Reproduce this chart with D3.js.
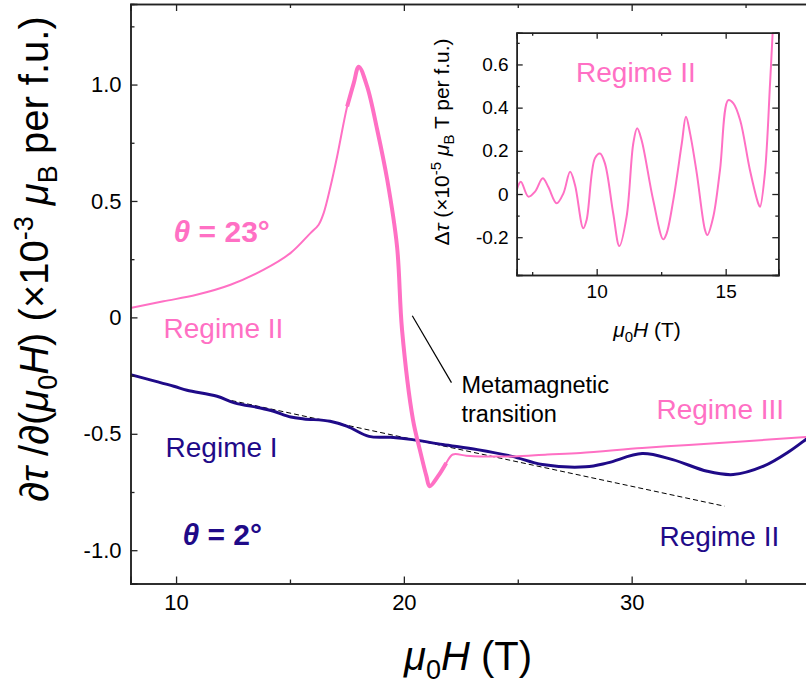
<!DOCTYPE html>
<html>
<head>
<meta charset="utf-8">
<script src="https://cdn.jsdelivr.net/npm/d3@7"></script>
<style>
  body { margin: 0; background: #fff; }
  svg { display: block; font-family: "Liberation Sans", Arial, sans-serif; }
</style>
</head>
<body>
<div id="chart"></div>
<script>
// theta = 23 deg, main panel (pink)
const h23 = [8.0, 9.45, 10.9, 12.39, 13.85, 15.02, 15.9, 16.26, 16.48, 16.78, 17.07, 17.51, 17.8, 18.02, 18.39, 18.83, 19.27, 19.7, 19.92, 20.4, 20.7, 20.99, 21.13, 21.5, 21.86, 22.15, 22.74, 23.35, 24.8, 26.3, 27.75, 30.46, 32.5, 35.0, 37.7, 38.0];
const v23 = [0.04, 0.069, 0.097, 0.14, 0.205, 0.276, 0.362, 0.398, 0.448, 0.562, 0.691, 0.906, 1.006, 1.077, 0.991, 0.806, 0.591, 0.305, -0.053, -0.439, -0.568, -0.682, -0.725, -0.682, -0.625, -0.589, -0.594, -0.597, -0.597, -0.589, -0.582, -0.561, -0.548, -0.532, -0.513, -0.51];

// theta = 2 deg, main panel (dark blue)
const h2 = [8.0, 9.9, 10.48, 11.8, 12.56, 13.7, 14.28, 15.04, 15.62, 16.76, 17.52, 18.47, 19.42, 20.38, 21.7, 23.23, 24.75, 26.08, 27.98, 28.94, 30.46, 31.8, 33.32, 34.46, 35.79, 36.93, 37.8, 38.0];
const v2 = [-0.246, -0.296, -0.313, -0.339, -0.367, -0.389, -0.403, -0.428, -0.436, -0.446, -0.468, -0.511, -0.515, -0.525, -0.546, -0.568, -0.597, -0.632, -0.642, -0.625, -0.585, -0.611, -0.661, -0.675, -0.639, -0.575, -0.513, -0.5];

// dashed background line
const dashH = [12.09, 34.08];
const dashV = [-0.35, -0.811];

// inset: oscillatory part, theta = 23 deg
const insetH = [6.9, 7.06, 7.35, 7.61, 7.91, 8.12, 8.45, 8.71, 8.97, 9.16, 9.48, 9.61, 9.93, 10.13, 10.32, 10.64, 10.88, 11.16, 11.42, 11.57, 11.74, 12.19, 12.58, 12.71, 12.97, 13.3, 13.46, 13.62, 13.88, 14.2, 14.29, 14.52, 14.78, 15.1, 15.3, 15.56, 15.94, 16.26, 16.33, 16.52, 16.72, 16.82];
const insetV = [0.018, 0.057, -0.012, 0.011, 0.073, 0.034, -0.043, 0.003, 0.103, 0.042, -0.159, -0.12, 0.165, 0.188, 0.142, -0.089, -0.241, -0.105, 0.235, 0.304, 0.25, -0.028, -0.21, -0.183, -0.028, 0.235, 0.358, 0.281, 0.096, -0.167, -0.19, -0.105, 0.111, 0.435, 0.42, 0.343, 0.111, -0.043, -0.059, 0.096, 0.512, 0.744];

// ticks
const xMajor = [10, 20, 30];
const xMinor = [15, 25, 35];
const yMajor = [-1.0, -0.5, 0, 0.5, 1.0];
const yMajorLabels = ["-1.0", "-0.5", "0", "0.5", "1.0"];
const yMinor = [-0.75, -0.25, 0.25, 0.75, 1.25];
const ixMajor = [10, 15];
const ixMinor = [7.5, 12.5];
const iyMajor = [-0.2, 0, 0.2, 0.4, 0.6];
const iyMajorLabels = ["-0.2", "0", "0.2", "0.4", "0.6"];
const iyMinor = [-0.3, -0.1, 0.1, 0.3, 0.5, 0.7];

const pink = "#ff70c4";
const navy = "#1f0a88";

const width = 806, height = 685;
const svg = d3.select("#chart").append("svg")
  .attr("width", width).attr("height", height);

const x = d3.scaleLinear().domain([8, 38]).range([130.5, 130.5 + 30 * 22.78]);
const y = d3.scaleLinear().domain([-1.143, 1.346]).range([583.5, 4]);

svg.append("clipPath").attr("id", "clipMain")
  .append("rect").attr("x", x(8)).attr("y", y(1.346)).attr("width", x(38) - x(8)).attr("height", y(-1.143) - y(1.346));

const plot = svg.append("g").attr("clip-path", "url(#clipMain)");

const line = d3.line().x(d => x(d[0])).y(d => y(d[1])).curve(d3.curveCatmullRom);

// dashed guide
plot.append("path")
  .datum(d3.zip(dashH, dashV))
  .attr("d", d3.line().x(d => x(d[0])).y(d => y(d[1])))
  .attr("fill", "none").attr("stroke", "#000").attr("stroke-width", 1)
  .attr("stroke-dasharray", "5,3");

// theta = 2
plot.append("path")
  .datum(d3.zip(h2, v2))
  .attr("d", line)
  .attr("fill", "none").attr("stroke", navy).attr("stroke-width", 3);

// theta = 23
const pts23 = d3.zip(h23, v23);
plot.append("path")
  .datum(pts23)
  .attr("d", line)
  .attr("fill", "none").attr("stroke", pink).attr("stroke-width", 2);
// noisy region drawn thicker
plot.append("path")
  .datum(pts23.filter(d => d[0] >= 17.3 && d[0] <= 22.0))
  .attr("d", line)
  .attr("fill", "none").attr("stroke", pink).attr("stroke-width", 4);

// axes (ticks inside)
function styleAxis(g) {
  g.select(".domain").attr("stroke", "#222").attr("stroke-width", 1.5);
  g.selectAll(".tick line").attr("stroke", "#222").attr("stroke-width", 1.3);
  g.selectAll("text").attr("fill", "#000");
}
const yTop = y(1.346), yBottom = y(-1.143), xLeft = x(8);

svg.append("g").attr("transform", `translate(0,${yBottom})`)
  .call(d3.axisBottom(x).tickValues(xMajor).tickSize(-7).tickPadding(11).tickFormat(d3.format("d")))
  .call(styleAxis).selectAll("text").attr("font-size", 22).attr("font-family", "Liberation Sans, Arial");
svg.append("g").attr("transform", `translate(0,${yBottom})`)
  .call(d3.axisBottom(x).tickValues(xMinor).tickSize(-4).tickFormat(""))
  .call(styleAxis);
svg.append("g").attr("transform", `translate(0,${yTop})`)
  .call(d3.axisTop(x).tickValues(xMajor).tickSize(-7).tickFormat(""))
  .call(styleAxis);
svg.append("g").attr("transform", `translate(0,${yTop})`)
  .call(d3.axisTop(x).tickValues(xMinor).tickSize(-4).tickFormat(""))
  .call(styleAxis);
svg.append("g").attr("transform", `translate(${xLeft},0)`)
  .call(d3.axisLeft(y).tickValues(yMajor).tickSize(-7).tickPadding(9).tickFormat((d, i) => yMajorLabels[i]))
  .call(styleAxis).selectAll("text").attr("font-size", 22).attr("font-family", "Liberation Sans, Arial");
svg.append("g").attr("transform", `translate(${xLeft},0)`)
  .call(d3.axisLeft(y).tickValues(yMinor).tickSize(-4).tickFormat(""))
  .call(styleAxis);

// axis titles
const xt = svg.append("text").attr("x", 468).attr("y", 670)
  .attr("text-anchor", "middle").attr("font-size", 40).attr("fill", "#000");
xt.append("tspan").attr("font-style", "italic").text("μ");
xt.append("tspan").attr("dy", 9).attr("font-size", 27).text("0");
xt.append("tspan").attr("dy", -9).attr("font-style", "italic").text("H");
xt.append("tspan").text(" (T)");

const yt = svg.append("text").attr("transform", "translate(48,259) rotate(-90)")
  .attr("text-anchor", "middle").attr("font-size", 40).attr("fill", "#000");
yt.append("tspan").text("∂");
yt.append("tspan").attr("font-style", "italic").text("τ");
yt.append("tspan").text(" /∂(");
yt.append("tspan").attr("font-style", "italic").text("μ");
yt.append("tspan").attr("dy", 9).attr("font-size", 27).text("0");
yt.append("tspan").attr("dy", -9).attr("font-style", "italic").text("H");
yt.append("tspan").text(") (×10");
yt.append("tspan").attr("dy", -15).attr("font-size", 27).text("-3");
yt.append("tspan").attr("dy", 15).text(" ");
yt.append("tspan").attr("font-style", "italic").text("μ");
yt.append("tspan").attr("dy", 9).attr("font-size", 27).text("B");
yt.append("tspan").attr("dy", -9).text(" per f.u.)");

// annotations (placed in data units)
function label(h, v, txt, color, size, weight) {
  return svg.append("text").attr("x", x(h)).attr("y", y(v))
    .attr("font-size", size).attr("font-weight", weight || "normal")
    .attr("fill", color).text(txt);
}
const t23 = svg.append("text").attr("x", x(9.89)).attr("y", y(0.325))
  .attr("font-size", 30).attr("font-weight", "bold").attr("fill", pink);
t23.append("tspan").attr("font-style", "italic").text("θ");
t23.append("tspan").text(" = 23°");
const t2 = svg.append("text").attr("x", x(10.28)).attr("y", y(-0.976))
  .attr("font-size", 30).attr("font-weight", "bold").attr("fill", navy);
t2.append("tspan").attr("font-style", "italic").text("θ");
t2.append("tspan").text(" = 2°");

label(9.45, -0.087, "Regime II", pink, 28);
label(9.54, -0.598, "Regime I", navy, 28);
label(31.09, -0.435, "Regime III", pink, 28);
label(31.22, -0.984, "Regime II", navy, 28);
label(22.53, -0.323, "Metamagnetic", "#000", 23.5);
label(22.53, -0.448, "transition", "#000", 23.5);

svg.append("line")
  .attr("x1", x(20.37)).attr("y1", y(0.007))
  .attr("x2", x(22.09)).attr("y2", y(-0.28))
  .attr("stroke", "#000").attr("stroke-width", 1.2);

// ---------- inset ----------
const xi = d3.scaleLinear().domain([6.9, 17.04]).range([516.7, 778.3]);
const yi = d3.scaleLinear().domain([-0.375, 0.747]).range([275, 32.7]);

svg.append("rect").attr("x", xi(6.9)).attr("y", yi(0.747))
  .attr("width", xi(17.04) - xi(6.9)).attr("height", yi(-0.375) - yi(0.747))
  .attr("fill", "#fff");

svg.append("clipPath").attr("id", "clipInset")
  .append("rect").attr("x", xi(6.9)).attr("y", yi(0.747))
  .attr("width", xi(17.04) - xi(6.9)).attr("height", yi(-0.375) - yi(0.747));

svg.append("g").attr("clip-path", "url(#clipInset)")
  .append("path")
  .datum(d3.zip(insetH, insetV))
  .attr("d", d3.line().x(d => xi(d[0])).y(d => yi(d[1])).curve(d3.curveCatmullRom))
  .attr("fill", "none").attr("stroke", pink).attr("stroke-width", 2);

const iBottom = yi(-0.375), iTop = yi(0.747), iLeft = xi(6.9), iRight = xi(17.04);
svg.append("g").attr("transform", `translate(0,${iBottom})`)
  .call(d3.axisBottom(xi).tickValues(ixMajor).tickSize(-6).tickPadding(10).tickFormat(d3.format("d")))
  .call(styleAxis).selectAll("text").attr("font-size", 19).attr("font-family", "Liberation Sans, Arial");
svg.append("g").attr("transform", `translate(0,${iBottom})`)
  .call(d3.axisBottom(xi).tickValues(ixMinor).tickSize(-3).tickFormat(""))
  .call(styleAxis);
svg.append("g").attr("transform", `translate(0,${iTop})`)
  .call(d3.axisTop(xi).tickValues(ixMajor).tickSize(-6).tickFormat(""))
  .call(styleAxis);
svg.append("g").attr("transform", `translate(0,${iTop})`)
  .call(d3.axisTop(xi).tickValues(ixMinor).tickSize(-3).tickFormat(""))
  .call(styleAxis);
svg.append("g").attr("transform", `translate(${iLeft},0)`)
  .call(d3.axisLeft(yi).tickValues(iyMajor).tickSize(-6).tickPadding(8).tickFormat((d, i) => iyMajorLabels[i]))
  .call(styleAxis).selectAll("text").attr("font-size", 19).attr("font-family", "Liberation Sans, Arial");
svg.append("g").attr("transform", `translate(${iLeft},0)`)
  .call(d3.axisLeft(yi).tickValues(iyMinor).tickSize(-3).tickFormat(""))
  .call(styleAxis);
svg.append("g").attr("transform", `translate(${iRight},0)`)
  .call(d3.axisRight(yi).tickValues(iyMajor).tickSize(-6).tickFormat(""))
  .call(styleAxis);
svg.append("g").attr("transform", `translate(${iRight},0)`)
  .call(d3.axisRight(yi).tickValues(iyMinor).tickSize(-3).tickFormat(""))
  .call(styleAxis);

const ixt = svg.append("text").attr("x", 647).attr("y", 337)
  .attr("text-anchor", "middle").attr("font-size", 21).attr("fill", "#000");
ixt.append("tspan").attr("font-style", "italic").text("μ");
ixt.append("tspan").attr("dy", 5).attr("font-size", 15).text("0");
ixt.append("tspan").attr("dy", -5).attr("font-style", "italic").text("H");
ixt.append("tspan").text(" (T)");

const iyt = svg.append("text").attr("transform", "translate(449,142) rotate(-90)")
  .attr("text-anchor", "middle").attr("font-size", 21).attr("fill", "#000");
iyt.append("tspan").text("Δ");
iyt.append("tspan").attr("font-style", "italic").text("τ");
iyt.append("tspan").text("  (×10");
iyt.append("tspan").attr("dy", -8).attr("font-size", 15).text("-5");
iyt.append("tspan").attr("dy", 8).text(" ");
iyt.append("tspan").attr("font-style", "italic").text("μ");
iyt.append("tspan").attr("dy", 5).attr("font-size", 15).text("B");
iyt.append("tspan").attr("dy", -5).text(" T per f.u.)");

svg.append("text").attr("x", xi(9.2)).attr("y", yi(0.519))
  .attr("font-size", 28).attr("fill", pink).text("Regime II");
</script>
</body>
</html>
